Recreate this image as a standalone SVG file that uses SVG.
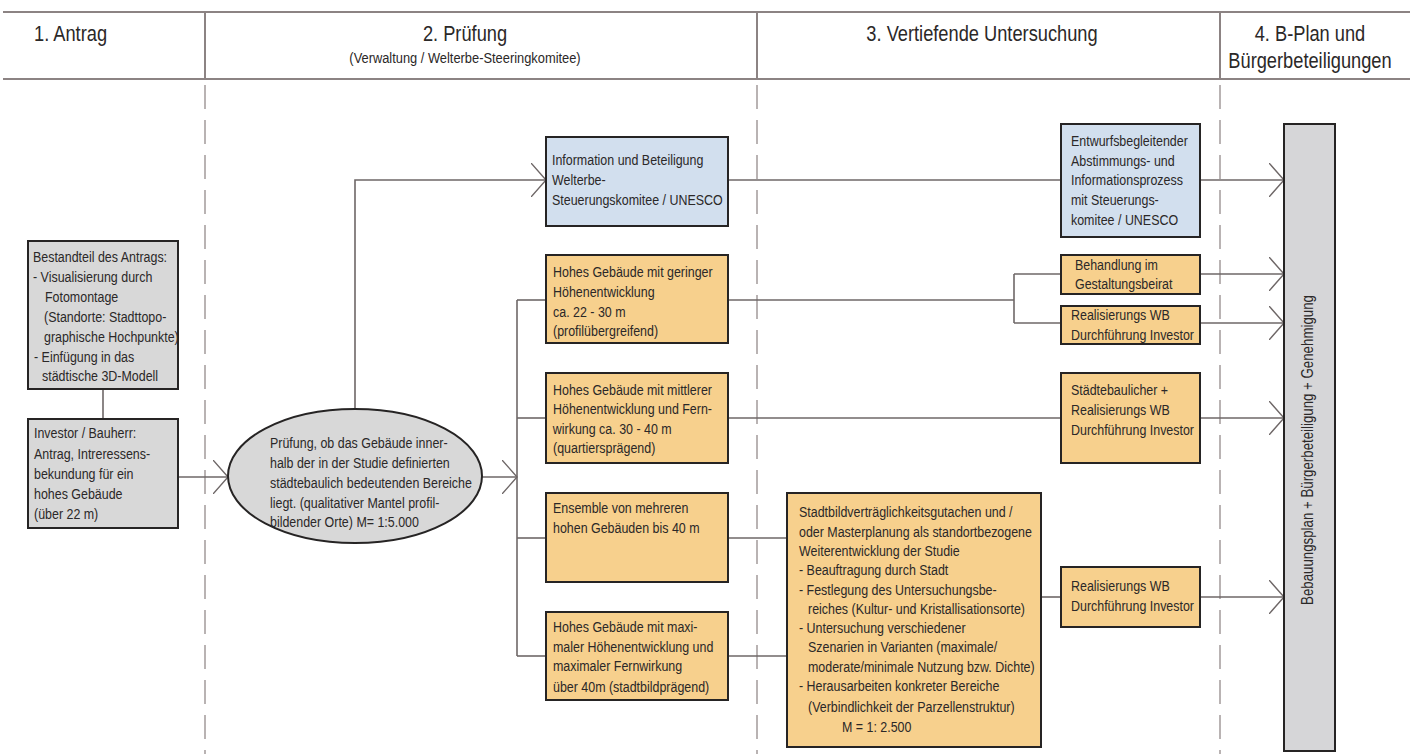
<svg xmlns="http://www.w3.org/2000/svg" width="1412" height="754" viewBox="0 0 1412 754">
<style>
text{font-family:"Liberation Sans",Arial,sans-serif;fill:#2b2828}
.h,.t,.hs{transform-box:fill-box;transform-origin:0% 50%;transform:scaleX(0.83)}
.m{text-anchor:middle;transform-origin:50% 50%}
.h{font-size:22px}
.hs{font-size:15.5px}
.t{font-size:15px}
.v{font-size:16px;text-anchor:middle}
.gray{fill:#d8d8d8;stroke:#262424;stroke-width:2}
.blue{fill:#d2dfee;stroke:#262424;stroke-width:2}
.org{fill:#f7d08d;stroke:#262424;stroke-width:2}
.bar{fill:#d6d6d8;stroke:#262424;stroke-width:2}
.hl{stroke:#8c8383;stroke-width:2;fill:none}
.dl{stroke:#a39a9a;stroke-width:1.5;stroke-dasharray:24 11;fill:none}
.c{stroke:#6e6767;stroke-width:1.6;fill:none}
</style>
<defs>
<marker id="arr" viewBox="0 0 16 34" refX="15" refY="17" markerWidth="16" markerHeight="34" markerUnits="userSpaceOnUse" orient="auto">
<path d="M0,0 L15,17 L0,34" fill="none" stroke="#6e6767" stroke-width="1.4"/>
</marker>
</defs>
<rect width="1412" height="754" fill="#ffffff"/>
<g id="header">
<line class="hl" x1="3" y1="12" x2="1410" y2="12"/>
<line class="hl" x1="3" y1="79" x2="1410" y2="79"/>
<line class="hl" x1="205" y1="12" x2="205" y2="79"/>
<line class="hl" x1="757" y1="12" x2="757" y2="79"/>
<line class="hl" x1="1220" y1="12" x2="1220" y2="79"/>
<line class="dl" x1="205" y1="85" x2="205" y2="754"/>
<line class="dl" x1="757" y1="85" x2="757" y2="754"/>
<line class="dl" x1="1220" y1="85" x2="1220" y2="754"/>
<text class="h" x="34" y="41">1. Antrag</text>
<text class="h m" x="465" y="41">2. Prüfung</text>
<text class="hs m" x="465" y="63">(Verwaltung / Welterbe-Steeringkomitee)</text>
<text class="h m" x="982" y="41">3. Vertiefende Untersuchung</text>
<text class="h m" x="1310" y="41">4. B-Plan und</text>
<text class="h m" x="1310" y="68">Bürgerbeteiligungen</text>
</g>
<g id="connectors">
<line class="c" x1="103" y1="389" x2="103" y2="419"/>
<line class="c" x1="178" y1="477" x2="228" y2="477" marker-end="url(#arr)"/>
<polyline class="c" points="355,409 355,180 546,180" marker-end="url(#arr)"/>
<line class="c" x1="482" y1="477" x2="517" y2="477" marker-end="url(#arr)"/>
<line class="c" x1="517" y1="300" x2="517" y2="656"/>
<line class="c" x1="517" y1="300" x2="546" y2="300"/>
<line class="c" x1="517" y1="418" x2="546" y2="418"/>
<line class="c" x1="517" y1="538" x2="546" y2="538"/>
<line class="c" x1="517" y1="656" x2="546" y2="656"/>
<line class="c" x1="728" y1="180" x2="1061" y2="180"/>
<line class="c" x1="728" y1="300" x2="1014" y2="300"/>
<line class="c" x1="1014" y1="274" x2="1014" y2="323"/>
<line class="c" x1="1014" y1="274" x2="1061" y2="274"/>
<line class="c" x1="1014" y1="323" x2="1061" y2="323"/>
<line class="c" x1="728" y1="418" x2="1061" y2="418"/>
<line class="c" x1="728" y1="538" x2="787" y2="538"/>
<line class="c" x1="728" y1="656" x2="787" y2="656"/>
<line class="c" x1="1041" y1="597" x2="1061" y2="597"/>
<line class="c" x1="1200" y1="180" x2="1284" y2="180" marker-end="url(#arr)"/>
<line class="c" x1="1200" y1="274" x2="1284" y2="274" marker-end="url(#arr)"/>
<line class="c" x1="1200" y1="323" x2="1284" y2="323" marker-end="url(#arr)"/>
<line class="c" x1="1200" y1="418" x2="1284" y2="418" marker-end="url(#arr)"/>
<line class="c" x1="1200" y1="597" x2="1284" y2="597" marker-end="url(#arr)"/>
</g>
<g id="bestandteil">
<rect class="gray" x="28" y="241" width="150" height="148"/>
<text class="t" x="33" y="262">Bestandteil des Antrags:</text>
<text class="t" x="33" y="282">- Visualisierung durch</text>
<text class="t" x="45" y="302">Fotomontage</text>
<text class="t" x="44" y="322">(Standorte: Stadttopo-</text>
<text class="t" x="44" y="342">graphische Hochpunkte)</text>
<text class="t" x="34" y="362">- Einfügung in das</text>
<text class="t" x="42" y="381">städtische 3D-Modell</text>
</g>
<g id="investor">
<rect class="gray" x="28" y="419" width="150" height="109"/>
<text class="t" x="34" y="438">Investor / Bauherr:</text>
<text class="t" x="34" y="459">Antrag, Intreressens-</text>
<text class="t" x="34" y="479">bekundung für ein</text>
<text class="t" x="34" y="499">hohes Gebäude</text>
<text class="t" x="34" y="519">(über 22 m)</text>
</g>
<g id="pruefung">
<ellipse class="gray" cx="355" cy="476" rx="127" ry="67"/>
<text class="t" x="270" y="448">Prüfung, ob das Gebäude inner-</text>
<text class="t" x="270" y="468">halb der in der Studie definierten</text>
<text class="t" x="270" y="488">städtebaulich bedeutenden Bereiche</text>
<text class="t" x="270" y="508">liegt. (qualitativer Mantel profil-</text>
<text class="t" x="270" y="527">bildender Orte) M= 1:5.000</text>
</g>
<g id="information">
<rect class="blue" x="546" y="137" width="182" height="89"/>
<text class="t" x="552" y="165">Information und Beteiligung</text>
<text class="t" x="552" y="185">Welterbe-</text>
<text class="t" x="552" y="205">Steuerungskomitee / UNESCO</text>
</g>
<g id="geringer">
<rect class="org" x="546" y="255" width="182" height="88"/>
<text class="t" x="553" y="277">Hohes Gebäude mit geringer</text>
<text class="t" x="553" y="297">Höhenentwicklung</text>
<text class="t" x="553" y="317">ca. 22 - 30 m</text>
<text class="t" x="553" y="336">(profilübergreifend)</text>
</g>
<g id="mittlerer">
<rect class="org" x="546" y="373" width="182" height="90"/>
<text class="t" x="553" y="395">Hohes Gebäude mit mittlerer</text>
<text class="t" x="553" y="414">Höhenentwicklung und Fern-</text>
<text class="t" x="553" y="434">wirkung ca. 30 - 40 m</text>
<text class="t" x="553" y="453">(quartiersprägend)</text>
</g>
<g id="ensemble">
<rect class="org" x="546" y="493" width="182" height="89"/>
<text class="t" x="553" y="513">Ensemble von mehreren</text>
<text class="t" x="553" y="533">hohen Gebäuden bis 40 m</text>
</g>
<g id="maximaler">
<rect class="org" x="546" y="612" width="182" height="88"/>
<text class="t" x="553" y="632">Hohes Gebäude mit maxi-</text>
<text class="t" x="553" y="652">maler Höhenentwicklung und</text>
<text class="t" x="553" y="671">maximaler Fernwirkung</text>
<text class="t" x="553" y="692">über 40m (stadtbildprägend)</text>
</g>
<g id="stadtbild">
<rect class="org" x="787" y="493" width="254" height="254"/>
<text class="t" x="799" y="517">Stadtbildverträglichkeitsgutachen und /</text>
<text class="t" x="799" y="537">oder Masterplanung als standortbezogene</text>
<text class="t" x="799" y="556">Weiterentwicklung der Studie</text>
<text class="t" x="799" y="575">- Beauftragung durch Stadt</text>
<text class="t" x="799" y="595">- Festlegung des Untersuchungsbe-</text>
<text class="t" x="808" y="614">reiches (Kultur- und Kristallisationsorte)</text>
<text class="t" x="799" y="633">- Untersuchung verschiedener</text>
<text class="t" x="808" y="652">Szenarien in Varianten (maximale/</text>
<text class="t" x="808" y="672">moderate/minimale Nutzung bzw. Dichte)</text>
<text class="t" x="799" y="691">- Herausarbeiten konkreter Bereiche</text>
<text class="t" x="808" y="712">(Verbindlichkeit der Parzellenstruktur)</text>
<text class="t" x="842" y="732">M = 1: 2.500</text>
</g>
<g id="entwurf">
<rect class="blue" x="1061" y="124" width="139" height="113"/>
<text class="t" x="1071" y="146">Entwurfsbegleitender</text>
<text class="t" x="1071" y="166">Abstimmungs- und</text>
<text class="t" x="1071" y="185">Informationsprozess</text>
<text class="t" x="1071" y="205">mit Steuerungs-</text>
<text class="t" x="1071" y="225">komitee / UNESCO</text>
</g>
<g id="behandlung">
<rect class="org" x="1061" y="255" width="139" height="39"/>
<text class="t" x="1075" y="270">Behandlung im</text>
<text class="t" x="1075" y="289">Gestaltungsbeirat</text>
</g>
<g id="realisierung1">
<rect class="org" x="1061" y="306" width="139" height="38"/>
<text class="t" x="1071" y="320">Realisierungs WB</text>
<text class="t" x="1071" y="340">Durchführung Investor</text>
</g>
<g id="staedtebaulich">
<rect class="org" x="1061" y="373" width="139" height="90"/>
<text class="t" x="1071" y="395">Städtebaulicher +</text>
<text class="t" x="1071" y="415">Realisierungs WB</text>
<text class="t" x="1071" y="435">Durchführung Investor</text>
</g>
<g id="realisierung3">
<rect class="org" x="1061" y="567" width="139" height="60"/>
<text class="t" x="1071" y="591">Realisierungs WB</text>
<text class="t" x="1071" y="611">Durchführung Investor</text>
</g>
<g id="bplan">
<rect class="bar" x="1284" y="124" width="51" height="627"/>
<text class="v" transform="translate(1313,450) rotate(-90) scale(0.83,1)">Bebauungsplan + Bürgerbeteiligung + Genehmigung</text>
</g>
</svg>
